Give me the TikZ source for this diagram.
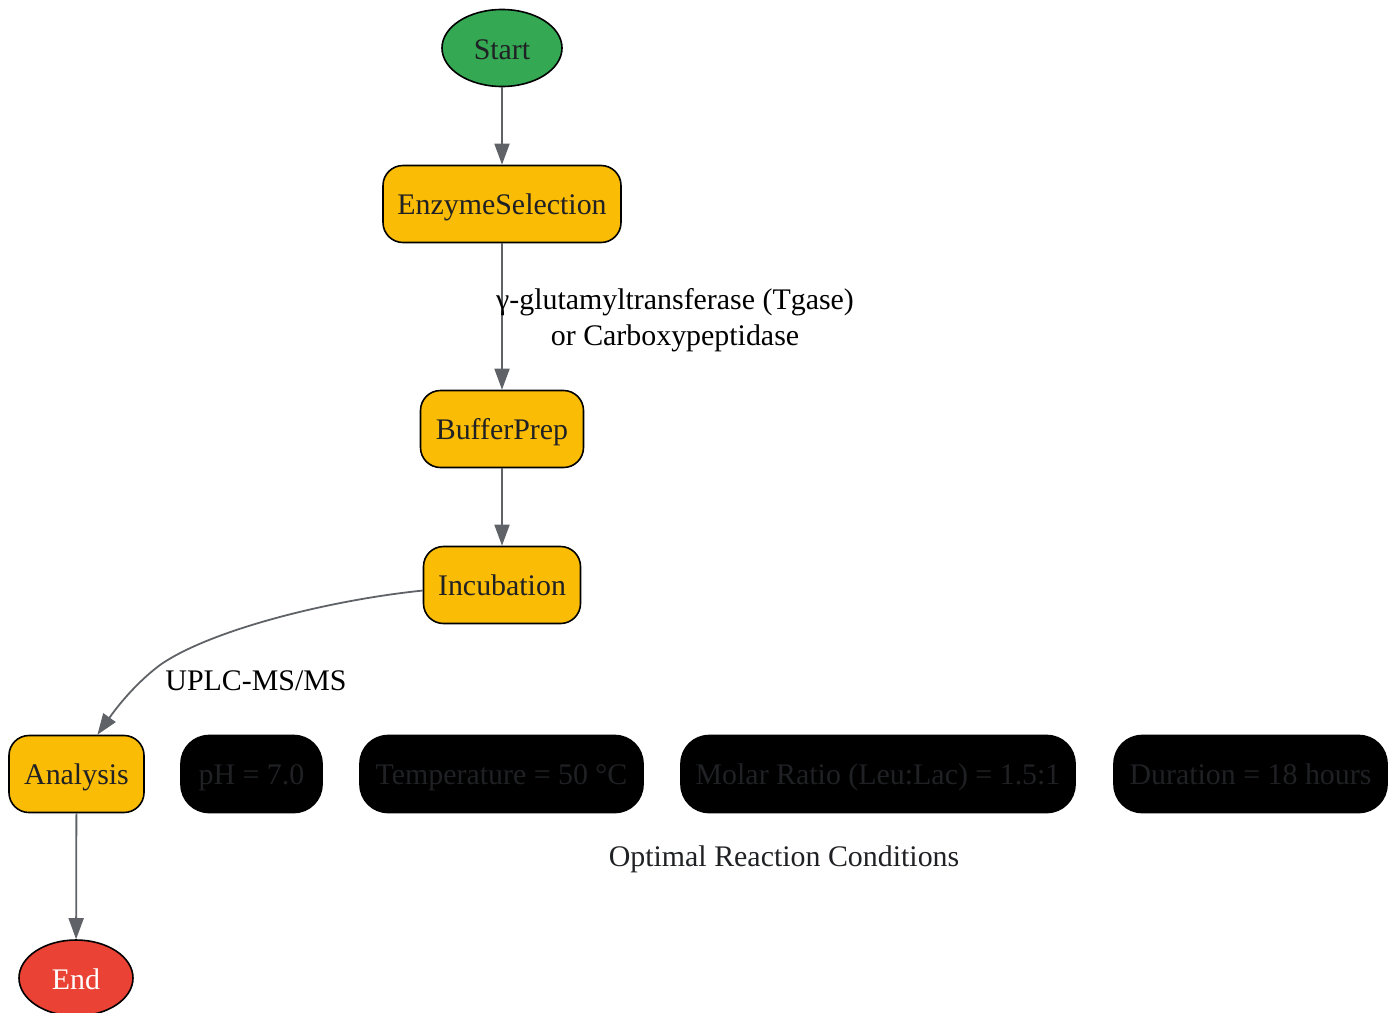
\documentclass[tikz,border=0pt]{standalone}
\usepackage{fontspec}
\setmainfont{Liberation Serif}
\usetikzlibrary{arrows.meta,shapes.geometric}
\definecolor{gG}{HTML}{34A853}
\definecolor{gY}{HTML}{FBBC05}
\definecolor{gR}{HTML}{EA4335}
\definecolor{edgeC}{HTML}{5F6368}
\definecolor{txtC}{HTML}{202124}
\begin{document}
\begin{tikzpicture}[x=1pt,y=-1pt,
  every node/.style={font=\fontsize{29.9}{35.5}\selectfont},
  oval/.style={ellipse,draw=black,line width=1.6pt,inner sep=0pt,text=txtC,text height=23pt,text depth=1pt},
  procbox/.style={rounded corners=20pt,draw=black,line width=1.6pt,fill=gY,text=txtC,minimum height=77pt,inner sep=0pt,text height=23pt,text depth=3pt},
  condbox/.style={rounded corners=28pt,draw=black,line width=1.6pt,fill=black,text=txtC,minimum height=77pt,inner sep=0pt,text height=23pt,text depth=3pt},
  flow/.style={draw=edgeC,line width=1.8pt,-{Triangle[length=21pt,width=15pt]}},
  lbl/.style={text=black,align=center,inner sep=0pt}]
\useasboundingbox (0,0) rectangle (1391,1012);
\node[oval,fill=gG,minimum width=120pt,minimum height=77pt] (start) at (502,48) {Start};
\node[procbox,minimum width=238pt] (enz) at (502,204) {EnzymeSelection};
\node[procbox,minimum width=163pt] (buf) at (502,429) {BufferPrep};
\node[procbox,minimum width=157pt] (inc) at (502,585) {Incubation};
\node[procbox,minimum width=135pt] (ana) at (76.5,774) {Analysis};
\node[condbox,minimum width=141pt] (ph) at (251.5,774) {pH = 7.0};
\node[condbox,minimum width=283pt] (temp) at (501.5,774) {Temperature = 50 °C};
\node[condbox,minimum width=394pt] (molar) at (878,774) {Molar Ratio (Leu:Lac) = 1.5:1};
\node[condbox,minimum width=273pt] (dur) at (1250.5,774) {Duration = 18 hours};
\node[lbl,text=txtC] (optlbl) at (784,859) {Optimal Reaction Conditions};
\node[oval,fill=gR,text=white,minimum width=114pt,minimum height=76pt] (end) at (76,978) {End};
\draw[flow] (start) -- (enz);
\draw[flow] (enz) -- (buf);
\node[lbl] (enzlbl) at (675,320) {γ-glutamyltransferase (Tgase)\\or Carboxypeptidase};
\draw[flow] (buf) -- (inc);
\draw[flow] (inc.-176) .. controls (330,600) and (210,630) .. (160,665) .. controls (140,680) and (122,700) .. (ana.62);
\node[lbl] (uplc) at (256,681) {UPLC-MS/MS};
\draw[flow] (ana) -- (end);
\end{tikzpicture}
\end{document}
